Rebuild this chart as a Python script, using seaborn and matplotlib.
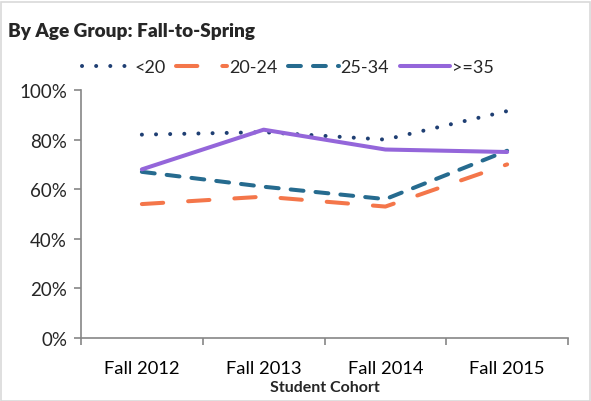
import pandas as pd
import seaborn as sns
import matplotlib.pyplot as plt
from matplotlib.patches import Rectangle
from matplotlib.ticker import PercentFormatter

cohorts = ["Fall 2012", "Fall 2013", "Fall 2014", "Fall 2015"]
groups = ["<20", "20-24", "25-34", ">=35"]
under_20 = [82, 83, 80, 91.5]
age_20_24 = [54, 57, 53, 70]
age_25_34 = [67, 61, 56, 75.5]
age_35_up = [68, 84, 76, 75]

colors = {"<20": "#1F3F73", "20-24": "#F4764A", "25-34": "#266B8F", ">=35": "#9466DA"}
dash_map = {"<20": (0.01, 3.5), "20-24": (5.3, 6.2), "25-34": (3.2, 3.0), ">=35": ""}

rows = []
for g, vals in zip(groups, [under_20, age_20_24, age_25_34, age_35_up]):
    for c, v in zip(cohorts, vals):
        rows.append({"cohort": c, "group": g, "rate": v})
df = pd.DataFrame(rows)

sns.set_style("white")
plt.rcParams["font.family"] = ["Lato", "DejaVu Sans"]

fig = plt.figure(figsize=(5.91, 4.02), dpi=100)
ax = fig.add_axes([81 / 591, 1 - 339 / 402, 487 / 591, 248 / 402])

sns.lineplot(data=df, x="cohort", y="rate", hue="group", style="group",
             palette=colors, dashes=dash_map, hue_order=groups, style_order=groups,
             linewidth=2.9, sort=False, legend=False, ax=ax)
for line in ax.lines:
    line.set_dash_capstyle("round")
    line.set_solid_capstyle("round")

ax.set_xlim(-0.5, 3.5)
ax.set_ylim(0, 100)
ax.set_yticks(range(0, 101, 20))
ax.yaxis.set_major_formatter(PercentFormatter(decimals=0))
ax.set_xticks([-0.5, 0.5, 1.5, 2.5, 3.5], minor=False)
ax.set_xticklabels([])
ax.set_xticks(range(4), minor=True)
ax.set_xticklabels(cohorts, minor=True)
ax.tick_params(axis="x", which="major", length=5, color="#868686", width=1.2, direction="out", bottom=True)
ax.tick_params(axis="x", which="minor", length=0, labelsize=13.2, pad=16, colors="black")
ax.tick_params(axis="y", length=5, color="#868686", width=1.2, direction="out", left=True, labelsize=13.5, pad=5)
for s in ["top", "right"]:
    ax.spines[s].set_visible(False)
for s in ["left", "bottom"]:
    ax.spines[s].set_color("#868686")
    ax.spines[s].set_linewidth(1.2)
ax.set_ylabel("")
ax.set_xlabel("Student Cohort", fontsize=11.5, fontweight="bold", labelpad=3)

handles = ax.lines[:4]
fig.legend(handles, groups, loc="center", bbox_to_anchor=(288 / 591, 1 - 68 / 402), ncol=4,
           frameon=False, fontsize=13, handlelength=2.8, handletextpad=0.1, columnspacing=0.6)

fig.text(8 / 591, 1 - 31 / 402, "By Age Group: Fall-to-Spring", fontsize=13.7, fontweight="heavy", va="center")
fig.patches.append(Rectangle((0.5 / 591, 0), 1 - 1.5 / 591, 1 - 2.5 / 402, transform=fig.transFigure,
                             fill=False, edgecolor="#D9D9D9", linewidth=1.2))

fig.savefig("out.png", dpi=100)
